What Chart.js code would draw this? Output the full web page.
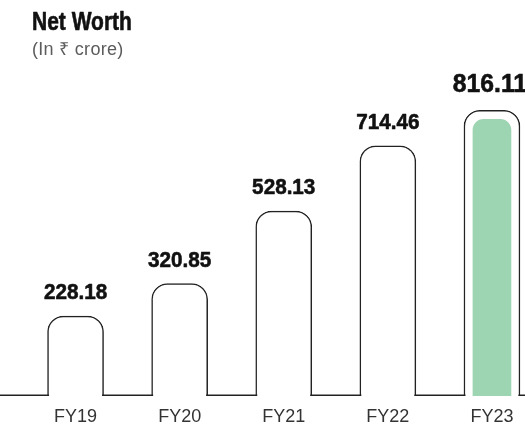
<!DOCTYPE html>
<html>
<head>
<meta charset="utf-8">
<script src="https://cdn.jsdelivr.net/npm/chart.js@4/dist/chart.umd.min.js"></script>
<style>
  html, body { margin: 0; padding: 0; background: #fff; overflow: hidden; }
  #wrap { position: relative; width: 545px; height: 433px; }
</style>
</head>
<body>
<div id="wrap"><canvas id="netWorthChart"></canvas></div>
<script>
const categories = ["FY19", "FY20", "FY21", "FY22", "FY23"];
const netWorth = [228.18, 320.85, 528.13, 714.46, 816.11];
const highlightIndex = 4;

const COLORS = {
  outline: "#222222",
  highlight: "#9dd4b1",
  value: "#111111",
  axis: "#333333",
  subtitle: "#5c5c5c"
};

const SANS = '"Liberation Sans", Arial, sans-serif';

// no narrow face installed, so squeeze the bold sans horizontally
function condensedText(ctx, text, x, y, font, squeeze, align) {
  ctx.save();
  ctx.font = font;
  ctx.textAlign = align;
  ctx.textBaseline = "alphabetic";
  ctx.translate(x, y);
  ctx.scale(squeeze, 1);
  ctx.fillText(text, 0, 0);
  // a hairline stroke gives the heavier condensed look
  ctx.strokeStyle = ctx.fillStyle;
  ctx.lineWidth = 0.6;
  ctx.lineJoin = "round";
  ctx.strokeText(text, 0, 0);
  ctx.restore();
}

/* ================================
   HEADER + BASELINE + VALUE LABELS
================================ */
const headerText = {
  id: "headerText",
  afterDraw(chart) {
    const { ctx } = chart;
    ctx.save();
    ctx.fillStyle = "#111";
    condensedText(ctx, "Net Worth", 32, 30, `bold 25px ${SANS}`, 0.84, "left");
    ctx.fillStyle = COLORS.subtitle;
    ctx.font = `18px ${SANS}`;
    ctx.letterSpacing = "0.3px";
    ctx.textAlign = "left";
    ctx.textBaseline = "alphabetic";
    ctx.fillText("(In ₹ crore)", 32, 55);
    ctx.restore();
  }
};

const baselineAndLabels = {
  id: "baselineAndLabels",
  afterDatasetsDraw(chart) {
    const { ctx } = chart;
    const bars = chart.getDatasetMeta(0).data;
    const y = chart.scales.y.getPixelForValue(0) - 0.75;

    // baseline runs between the open-bottom bars
    ctx.save();
    ctx.strokeStyle = COLORS.outline;
    ctx.lineWidth = 1.5;
    ctx.lineCap = "square";
    let from = 0;
    bars.forEach(bar => {
      const left = bar.x - bar.width / 2;
      ctx.beginPath();
      ctx.moveTo(from, y);
      ctx.lineTo(left + 0.75, y);
      ctx.stroke();
      from = bar.x + bar.width / 2 - 0.75;
    });
    ctx.beginPath();
    ctx.moveTo(from, y);
    ctx.lineTo(chart.width, y);
    ctx.stroke();

    // value labels
    ctx.fillStyle = COLORS.value;
    bars.forEach((bar, i) => {
      const big = i === highlightIndex;
      condensedText(
        ctx,
        netWorth[i].toFixed(2),
        big ? bar.x - 2 : bar.x,
        bar.y - (big ? 18.5 : 17),
        `bold ${big ? 26 : 22}px ${SANS}`,
        big ? 0.95 : 0.94,
        "center"
      );
    });
    ctx.restore();
  }
};

/* ================================
   CHART
================================ */
new Chart(document.getElementById("netWorthChart"), {
  type: "bar",
  data: {
    labels: categories,
    datasets: [
      {
        label: "Net Worth",
        data: netWorth,
        backgroundColor: "#ffffff",
        borderColor: COLORS.outline,
        borderWidth: { top: 1.5, left: 1.5, right: 1.5, bottom: 0 },
        borderRadius: { topLeft: 16, topRight: 16 },
        borderSkipped: "bottom",
        barThickness: 56,
        grouped: false,
        order: 2
      },
      {
        label: "FY23",
        data: netWorth.map((v, i) => (i === highlightIndex ? v : null)),
        backgroundColor: COLORS.highlight,
        borderColor: "rgba(0,0,0,0)",
        borderWidth: { top: 9, left: 9, right: 9, bottom: 0 },
        borderRadius: { topLeft: 20, topRight: 20 },
        borderSkipped: "bottom",
        barThickness: 56,
        grouped: false,
        order: 1
      }
    ]
  },
  options: {
    responsive: true,
    maintainAspectRatio: false,
    animation: false,
    events: [],
    layout: { padding: { top: 46, left: 23.5, right: 1, bottom: 3 } },
    plugins: {
      legend: { display: false },
      tooltip: { enabled: false }
    },
    scales: {
      x: {
        grid: { display: false, drawTicks: false },
        border: { display: false },
        ticks: {
          color: COLORS.axis,
          padding: 10,
          font: { family: SANS, size: 18 }
        },
        afterFit(scale) {
          scale.height = 34;
        }
      },
      y: {
        display: false,
        min: 0,
        max: 1000
      }
    }
  },
  plugins: [headerText, baselineAndLabels]
});
</script>
</body>
</html>
